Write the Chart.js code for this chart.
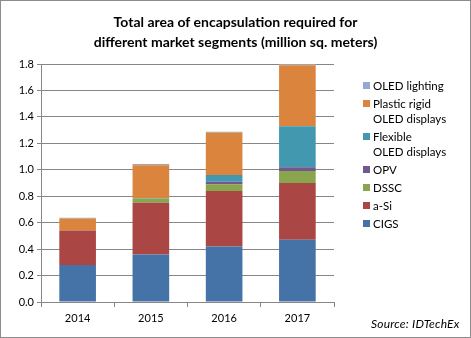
<!DOCTYPE html>
<html>
<head>
<meta charset="utf-8">
<script src="https://cdn.jsdelivr.net/npm/chart.js@4"></script>
<style>
  body { margin: 0; background: #fff; }
  #wrap { position: relative; width: 469px; height: 336px; border: 1px solid #8c8c8c; background: #fff; overflow: hidden; }
  #title { position: absolute; left: 0; top: 11px; width: 469px; text-align: center; font: bold 14px Lato, sans-serif; line-height: 20px; color: #000; }
  #source { position: absolute; left: 370px; top: 315px; font: italic 12px Lato, sans-serif; letter-spacing: 0.2px; color: #000; }
  #legend { position: absolute; left: 362px; top: 77px; font: 11.5px Lato, sans-serif; color: #000; }
  .item { position: relative; padding-left: 10px; line-height: 15px; margin-bottom: 3px; }
  .item span.box { position: absolute; left: 0; top: 4px; width: 7px; height: 7px; }
  #c { position: absolute; left: 0; top: 0; }
</style>
</head>
<body>
<div id="wrap">
  <canvas id="c" width="469" height="336"></canvas>
  <div id="title">Total area of encapsulation required for<br>different market segments (million sq. meters)</div>
  <div id="legend"></div>
  <div id="source">Source:  IDTechEx</div>
</div>
<script>
const years = ['2014', '2015', '2016', '2017'];

const cigs = [0.28, 0.36, 0.42, 0.47];
const aSi = [0.26, 0.39, 0.42, 0.43];
const dssc = [0.00, 0.03, 0.05, 0.09];
const opv = [0.00, 0.00, 0.02, 0.03];
const flexibleOled = [0.00, 0.005, 0.05, 0.31];
const plasticRigidOled = [0.09, 0.25, 0.32, 0.46];
const oledLighting = [0.007, 0.008, 0.008, 0.01];

const series = [
  { label: 'CIGS', legend: ['CIGS'], data: cigs, color: '#4572A7' },
  { label: 'a-Si', legend: ['a-Si'], data: aSi, color: '#AA4643' },
  { label: 'DSSC', legend: ['DSSC'], data: dssc, color: '#89A54E' },
  { label: 'OPV', legend: ['OPV'], data: opv, color: '#71588F' },
  { label: 'Flexible OLED displays', legend: ['Flexible', 'OLED displays'], data: flexibleOled, color: '#4198AF' },
  { label: 'Plastic rigid OLED displays', legend: ['Plastic rigid', 'OLED displays'], data: plasticRigidOled, color: '#DB843D' },
  { label: 'OLED lighting', legend: ['OLED lighting'], data: oledLighting, color: '#A5A5A5' }
];
const legendColors = { 'OLED lighting': '#93A9CF' };

// html legend, top of the stack first
const legendDiv = document.getElementById('legend');
series.slice().reverse().forEach(s => {
  const d = document.createElement('div');
  d.className = 'item';
  d.innerHTML = '<span class="box" style="background:' + (legendColors[s.label] || s.color) + '"></span>' + s.legend.join('<br>');
  legendDiv.appendChild(d);
});

const ctx = document.getElementById('c').getContext('2d');
new Chart(ctx, {
  type: 'bar',
  data: {
    labels: years,
    datasets: series.map(s => ({
      label: s.label,
      data: s.data,
      backgroundColor: s.color,
      borderWidth: 0,
      categoryPercentage: 0.5,
      barPercentage: 1
    }))
  },
  options: {
    responsive: false,
    animation: false,
    layout: { padding: { top: 63, right: 136, left: 0, bottom: 0 } },
    plugins: {
      legend: { display: false },
      tooltip: { enabled: false }
    },
    scales: {
      x: {
        stacked: true,
        afterFit: s => { s.height = 35; },
        grid: { offset: true, drawOnChartArea: false, color: '#868686', tickLength: 5 },
        border: { color: '#868686' },
        ticks: { color: '#000', font: { family: 'Lato', size: 11 }, padding: 5 }
      },
      y: {
        stacked: true,
        min: 0,
        max: 1.8,
        afterFit: s => { s.width = 40; },
        grid: { color: '#868686', tickLength: 4 },
        border: { color: '#868686' },
        ticks: {
          stepSize: 0.2,
          color: '#000',
          font: { family: 'Lato', size: 11 },
          padding: 3,
          callback: v => v.toFixed(1)
        }
      }
    }
  }
});
</script>
</body>
</html>
